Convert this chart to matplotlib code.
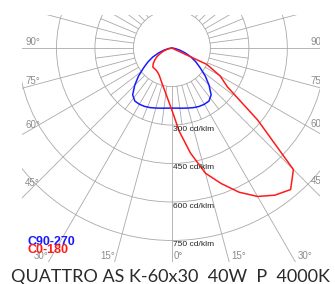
import numpy as np
import matplotlib
matplotlib.use('Agg')
import matplotlib.pyplot as plt
from matplotlib.patches import Circle

# gamma angles (deg from nadir) and intensities in cd/klm
gamma = [0, 5, 10, 15, 20, 25, 30, 35, 40, 45, 50, 55, 60, 65, 70, 75, 80, 85, 90]
c90_270 = [234, 235, 238, 242, 247, 251, 253, 252, 238, 205, 170, 135, 108, 82, 55, 33, 16, 6, 0]
c0 = [242, 325, 415, 505, 562, 620, 668, 700, 720, 670, 437, 265, 217, 150, 0, 0, 0, 0, 0]
c180 = [242, 196, 166, 145, 129, 117, 110, 106, 105, 105, 95, 82, 68, 50, 35, 20, 8, 0, 0]

rings = [150, 300, 450, 600, 750]
ring_labels = ['300 cd/klm', '450 cd/klm', '600 cd/klm', '750 cd/klm']
side_angles = [90, 75, 60, 45]
bottom_angles = [30, 15, 0]
legend_names = ['C90-270', 'C0-180']
title = 'QUATTRO AS K-60x30  40W  P  4000K'

W, H = 335, 284
PX = 0.72  # points per pixel at dpi 100
XMIN, XMAX, YMIN, YMAX = -584, 577, -834, 129

fig = plt.figure(figsize=(W / 100, H / 100), dpi=100)
ax = fig.add_axes([22 / W, 22 / H, 298 / W, 247 / H])
ax.set_xlim(XMIN, XMAX)
ax.set_ylim(YMIN, YMAX)
ax.set_aspect('equal')
ax.axis('off')

grid_c = '#a9a9a9'
for r in rings:
    ax.add_patch(Circle((0, 0), r, fill=False, ec=grid_c, lw=0.6))
for a in np.arange(0, 360, 7.5):
    t = np.radians(a)
    r1 = 2000 if a % 15 == 0 else 300
    ax.plot([150 * np.sin(t), r1 * np.sin(t)], [-150 * np.cos(t), -r1 * np.cos(t)],
            color=grid_c, lw=0.6)


def curve(right, left):
    g = np.radians(np.array(gamma, dtype=float))
    ang = np.concatenate([-g[::-1], g[1:]])
    val = np.concatenate([np.array(left[::-1]), np.array(right[1:])])
    return val * np.sin(ang), -val * np.cos(ang)


x, y = curve(c90_270, c90_270)
ax.plot(x, y, color='#1a1aff', lw=1.1)
x, y = curve(c0, c180)
ax.plot(x, y, color='#ff1a1a', lw=1.1)

lab = dict(fontsize=7, color='#8c8c8c', family='Liberation Sans')
# side labels
ups = [0.7, 1.5, 3.3, 7.2]
for a, up in zip(side_angles, ups):
    t = np.radians(a)
    yl = XMIN / np.tan(t) if a != 90 else 0
    ax.annotate('%d°' % a, (XMIN, yl), xytext=(3 * PX, up), textcoords='offset points',
                ha='left', va='bottom', **lab)
    yr = -XMAX / np.tan(t) if a != 90 else 0
    ax.annotate('%d°' % a, (XMAX, yr), xytext=(-9 * PX, up), textcoords='offset points',
                ha='left', va='bottom', annotation_clip=False, clip_on=True, **lab)
# bottom labels
for a in bottom_angles:
    xb = -YMIN * np.tan(np.radians(a))
    if a != 0:
        ax.annotate('%d°' % a, (-xb, YMIN), xytext=(0, 0.5), textcoords='offset points',
                    ha='right', va='bottom', **lab)
    ax.annotate('%d°' % a, (xb, YMIN), xytext=(2 * PX, 0.5), textcoords='offset points',
                ha='left', va='bottom', **lab)

for r, s in zip(rings[1:], ring_labels):
    ax.annotate(s, (0, -r), xytext=(1 * PX, -0.5), textcoords='offset points',
                ha='left', va='top', fontsize=6, color='#222222', family='Liberation Sans')

fig.text(27 / W, 1 - 245 / H, legend_names[0], color='#1a1aff', fontsize=9,
         fontweight='bold', family='Liberation Sans', ha='left', va='baseline')
fig.text(27 / W, 1 - 253 / H, legend_names[1], color='#ff1a1a', fontsize=9,
         fontweight='bold', family='Liberation Sans', ha='left', va='baseline')

fig.text(170 / W, 1 - 282 / H, title, fontsize=13, color='#2a2a2a', family='Lato',
         fontweight='normal', ha='center', va='baseline')

fig.savefig('out.png', dpi=100)
